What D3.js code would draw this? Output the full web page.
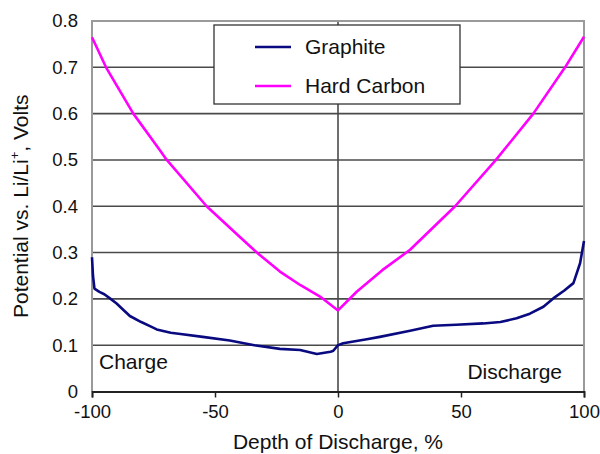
<!DOCTYPE html>
<html>
<head>
<meta charset="utf-8">
<script src="https://cdn.jsdelivr.net/npm/d3@7"></script>
<style>
  html, body { margin: 0; padding: 0; background: #fff; }
  svg text { font-family: "Liberation Sans", Arial, sans-serif; fill: #111; }
</style>
</head>
<body>
<svg id="chart" width="600" height="454"></svg>
<script>
// Depth of discharge (%) and electrode potential (V vs. Li/Li+)
const graphiteX = [-100, -99.6, -99, -97, -95, -92.7, -90, -87, -84.6, -80, -76, -73.7, -68, -64, -55, -44, -34, -23.6, -15.4, -8.6, -3, -1.9, 0, 2.1, 11.7, 17, 29.3, 38.7, 48, 59, 66, 72.6, 78, 83.5, 87.5, 92, 95.7, 98.4, 100];
const graphiteY = [0.29, 0.25, 0.222, 0.215, 0.210, 0.201, 0.190, 0.175, 0.163, 0.150, 0.140, 0.134, 0.127, 0.124, 0.118, 0.11, 0.10, 0.092, 0.0896, 0.081, 0.086, 0.088, 0.10, 0.104, 0.113, 0.118, 0.131, 0.142, 0.144, 0.147, 0.150, 0.158, 0.168, 0.183, 0.201, 0.218, 0.234, 0.277, 0.325];

const hardCarbonX = [-100, -94.3, -83.2, -72.4, -69.6, -53.4, -40, -33, -23.6, -15.4, -7.3, 0, 7.7, 18, 29.3, 47.6, 64.2, 79.4, 92.3, 100];
const hardCarbonY = [0.765, 0.70, 0.60, 0.521, 0.50, 0.40, 0.334, 0.30, 0.259, 0.23, 0.205, 0.175, 0.216, 0.262, 0.306, 0.40, 0.50, 0.60, 0.70, 0.766];

const xTicks = [-100, -50, 0, 50, 100];
const yTicks = [0, 0.1, 0.2, 0.3, 0.4, 0.5, 0.6, 0.7, 0.8];
const seriesNames = ["Graphite", "Hard Carbon"];
const seriesColors = ["#0a0a80", "#ff00ff"];

const svg = d3.select("#chart");
const x = d3.scaleLinear().domain([-100, 100]).range([92, 584]);
const y = d3.scaleLinear().domain([0, 0.8]).range([391.5, 21]);

// horizontal gridlines
svg.append("g").selectAll("line").data(yTicks.filter(d => d > 0 && d < 0.8)).join("line")
  .attr("x1", x(-100)).attr("x2", x(100))
  .attr("y1", d => y(d)).attr("y2", d => y(d))
  .attr("stroke", "#4a4a4a").attr("stroke-width", 1.6);

// vertical line at zero depth of discharge
svg.append("line")
  .attr("x1", x(0)).attr("x2", x(0)).attr("y1", y(0.8)).attr("y2", y(0))
  .attr("stroke", "#4a4a4a").attr("stroke-width", 1.6);

// plot frame (top, left, right)
svg.append("path")
  .attr("d", `M${x(-100)},${y(0)}V${y(0.8)}H${x(100)}V${y(0)}`)
  .attr("fill", "none").attr("stroke", "#9a9a9a").attr("stroke-width", 2);

// x axis
const xAxis = d3.axisBottom(x).tickValues(xTicks).tickSize(6).tickPadding(7).tickFormat(d => String(d));
const gx = svg.append("g").attr("transform", `translate(0,${y(0)})`).call(xAxis);
gx.select(".domain").attr("stroke", "#222").attr("stroke-width", 1.8);
gx.selectAll(".tick line").attr("stroke", "#222").attr("stroke-width", 1.5);
gx.selectAll(".tick text").attr("font-size", 18.5).attr("font-family", "Liberation Sans, Arial, sans-serif").attr("fill", "#111");

// y axis labels
const yAxis = d3.axisLeft(y).tickValues(yTicks).tickSize(0).tickPadding(14).tickFormat(d => d === 0 ? "0" : d3.format(".1f")(d));
const gy = svg.append("g").attr("transform", `translate(${x(-100)},0)`).call(yAxis);
gy.select(".domain").remove();
gy.selectAll(".tick text").attr("font-size", 18.5).attr("font-family", "Liberation Sans, Arial, sans-serif").attr("fill", "#111");

// curves
const line = d3.line().x(d => x(d[0])).y(d => y(d[1]));
const series = [
  d3.zip(graphiteX, graphiteY),
  d3.zip(hardCarbonX, hardCarbonY)
];
svg.append("g").selectAll("path").data(series).join("path")
  .attr("d", line)
  .attr("fill", "none")
  .attr("stroke", (d, i) => seriesColors[i])
  .attr("stroke-width", 2.6)
  .attr("stroke-linejoin", "round");

// region labels
svg.append("text").attr("x", 99).attr("y", 369).attr("font-size", 21).text("Charge");
svg.append("text").attr("x", 562).attr("y", 379).attr("font-size", 21).attr("text-anchor", "end").text("Discharge");

// axis titles
svg.append("text").attr("x", x(0)).attr("y", 449).attr("text-anchor", "middle").attr("font-size", 21)
  .text("Depth of Discharge, %");
const yt = svg.append("text").attr("transform", `translate(28,${(y(0) + y(0.8)) / 2}) rotate(-90)`)
  .attr("text-anchor", "middle").attr("font-size", 21);
yt.append("tspan").text("Potential vs. Li/Li");
yt.append("tspan").attr("font-size", 13).attr("dy", -9).text("+");
yt.append("tspan").attr("dy", 9).text(", Volts");

// legend
const lg = svg.append("g");
lg.append("rect").attr("x", 214).attr("y", 25).attr("width", 246).attr("height", 79)
  .attr("fill", "#fff").attr("stroke", "#333").attr("stroke-width", 1.3);
const rows = lg.selectAll("g.row").data(seriesNames).join("g").attr("class", "row")
  .attr("transform", (d, i) => `translate(0,${47 + i * 39})`);
rows.append("line").attr("x1", 255).attr("x2", 291).attr("y1", 0).attr("y2", 0)
  .attr("stroke", (d, i) => seriesColors[i]).attr("stroke-width", 2.6);
rows.append("text").attr("x", 305).attr("y", 7).attr("font-size", 21).text(d => d);
</script>
</body>
</html>
